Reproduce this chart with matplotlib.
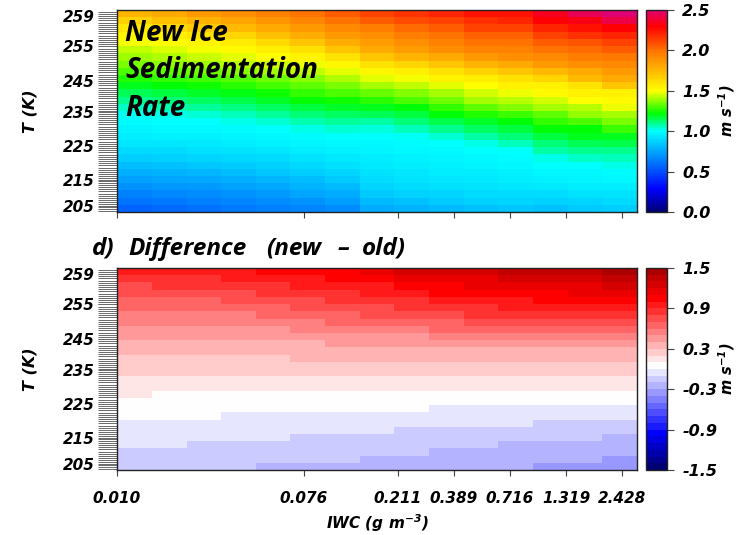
import matplotlib
matplotlib.use('Agg')
import matplotlib.pyplot as plt
import numpy as np
from matplotlib.cm import ScalarMappable
from matplotlib.colors import BoundaryNorm, LinearSegmentedColormap, ListedColormap, Normalize
from matplotlib.ticker import FixedLocator, NullLocator

plt.rcParams.update({
    'font.family': ['DejaVu Sans'],
    'font.weight': 'bold',
    'font.style': 'italic',
    'axes.labelweight': 'bold',
    'axes.unicode_minus': False,
    'mathtext.fontset': 'custom',
    'mathtext.it': 'DejaVu Sans:italic:bold',
    'mathtext.rm': 'DejaVu Sans:italic:bold',
    'mathtext.default': 'it',
})

# IWC bin edges (g m-3) and the labelled IWC values
iwc_edges = [0.0100, 0.0146, 0.0213, 0.0310, 0.0452, 0.0658, 0.0959, 0.1398,
             0.2038, 0.2971, 0.4331, 0.6313, 0.9203, 1.3415, 1.9555, 2.8505]
iwc_ticks = [0.010, 0.076, 0.211, 0.389, 0.716, 1.319, 2.428]
t_labels = [259, 255, 245, 235, 225, 215, 205]

# new ice sedimentation rate (m s-1), one list per IWC bin, warmest row first
vnew_cols = [
    [1.76, 1.66, 1.58, 1.53, 1.49, 1.43, 1.39, 1.35, 1.30, 1.25, 1.20, 1.15, 1.10, 1.05,
     1.01, 0.99, 0.97, 0.95, 0.93, 0.90, 0.86, 0.82, 0.78, 0.74, 0.70, 0.65, 0.61, 0.56],
    [1.80, 1.72, 1.63, 1.56, 1.51, 1.46, 1.41, 1.37, 1.32, 1.27, 1.22, 1.17, 1.12, 1.07,
     1.02, 1.00, 0.98, 0.96, 0.93, 0.90, 0.87, 0.83, 0.79, 0.75, 0.71, 0.67, 0.62, 0.58],
    [1.86, 1.77, 1.68, 1.60, 1.54, 1.49, 1.44, 1.39, 1.34, 1.29, 1.24, 1.19, 1.14, 1.09,
     1.04, 1.00, 0.98, 0.96, 0.94, 0.91, 0.88, 0.84, 0.80, 0.76, 0.72, 0.68, 0.64, 0.60],
    [1.90, 1.82, 1.74, 1.65, 1.57, 1.52, 1.47, 1.42, 1.37, 1.31, 1.26, 1.21, 1.16, 1.11,
     1.06, 1.02, 0.99, 0.97, 0.95, 0.92, 0.89, 0.85, 0.82, 0.78, 0.74, 0.70, 0.66, 0.62],
    [1.95, 1.87, 1.80, 1.72, 1.63, 1.56, 1.50, 1.45, 1.40, 1.34, 1.29, 1.24, 1.19, 1.14,
     1.09, 1.04, 1.00, 0.98, 0.96, 0.93, 0.90, 0.87, 0.84, 0.80, 0.76, 0.72, 0.68, 0.64],
    [2.00, 1.93, 1.86, 1.79, 1.70, 1.61, 1.54, 1.48, 1.43, 1.37, 1.32, 1.27, 1.22, 1.17,
     1.12, 1.07, 1.02, 0.99, 0.97, 0.95, 0.92, 0.89, 0.86, 0.82, 0.79, 0.75, 0.70, 0.66],
    [2.06, 2.00, 1.92, 1.86, 1.79, 1.70, 1.60, 1.53, 1.47, 1.41, 1.35, 1.30, 1.24, 1.19,
     1.14, 1.09, 1.04, 1.00, 0.98, 0.96, 0.94, 0.91, 0.88, 0.85, 0.81, 0.77, 0.73, 0.68],
    [2.12, 2.06, 1.96, 1.90, 1.85, 1.80, 1.70, 1.60, 1.53, 1.47, 1.40, 1.33, 1.26, 1.20,
     1.15, 1.08, 1.03, 1.00, 0.98, 0.97, 0.95, 0.94, 0.92, 0.90, 0.88, 0.85, 0.81, 0.77],
    [2.16, 2.10, 2.02, 1.96, 1.90, 1.85, 1.76, 1.65, 1.56, 1.49, 1.43, 1.36, 1.30, 1.22,
     1.17, 1.12, 1.06, 1.01, 0.99, 0.98, 0.96, 0.95, 0.93, 0.92, 0.90, 0.87, 0.83, 0.79],
    [2.20, 2.12, 2.06, 2.00, 1.95, 1.90, 1.80, 1.70, 1.60, 1.54, 1.47, 1.40, 1.34, 1.27,
     1.22, 1.16, 1.10, 1.04, 1.00, 0.98, 0.97, 0.96, 0.95, 0.93, 0.91, 0.88, 0.85, 0.81],
    [2.25, 2.17, 2.12, 2.05, 2.00, 1.94, 1.86, 1.76, 1.66, 1.56, 1.50, 1.45, 1.40, 1.32,
     1.25, 1.19, 1.14, 1.08, 1.02, 1.00, 0.98, 0.97, 0.95, 0.94, 0.92, 0.90, 0.87, 0.83],
    [2.25, 2.20, 2.12, 2.05, 2.00, 1.95, 1.90, 1.80, 1.70, 1.60, 1.55, 1.48, 1.42, 1.36,
     1.28, 1.22, 1.17, 1.12, 1.06, 1.00, 0.99, 0.98, 0.96, 0.95, 0.93, 0.90, 0.88, 0.84],
    [2.35, 2.30, 2.20, 2.12, 2.06, 2.00, 1.92, 1.86, 1.75, 1.65, 1.55, 1.52, 1.45, 1.40,
     1.32, 1.27, 1.22, 1.17, 1.12, 1.08, 1.02, 1.00, 0.98, 0.96, 0.94, 0.90, 0.87, 0.83],
    [2.45, 2.33, 2.25, 2.17, 2.08, 2.02, 1.96, 1.90, 1.80, 1.74, 1.60, 1.55, 1.50, 1.42,
     1.38, 1.30, 1.22, 1.20, 1.15, 1.10, 1.05, 1.00, 0.98, 0.97, 0.95, 0.92, 0.88, 0.85],
    [2.50, 2.42, 2.30, 2.20, 2.12, 2.06, 1.98, 1.92, 1.86, 1.80, 1.70, 1.55, 1.52, 1.48,
     1.40, 1.35, 1.28, 1.20, 1.16, 1.10, 1.06, 1.02, 0.99, 0.98, 0.95, 0.92, 0.90, 0.86],
]

# new - old (m s-1), same layout
diff_cols = [
    [0.93, 0.86, 0.78, 0.74, 0.67, 0.62, 0.57, 0.53, 0.46, 0.42, 0.36, 0.32, 0.27, 0.24,
     0.21, 0.17, 0.14, 0.11, 0.07, 0.04, 0.02, -0.02, -0.04, -0.06, -0.09, -0.12, -0.15, -0.18],
    [0.94, 0.88, 0.82, 0.76, 0.68, 0.63, 0.58, 0.53, 0.47, 0.43, 0.37, 0.33, 0.28, 0.25,
     0.22, 0.16, 0.12, 0.08, 0.06, 0.04, 0.02, -0.02, -0.05, -0.07, -0.09, -0.13, -0.16, -0.18],
    [0.95, 0.89, 0.83, 0.77, 0.69, 0.64, 0.58, 0.54, 0.48, 0.43, 0.37, 0.33, 0.28, 0.25,
     0.22, 0.16, 0.12, 0.08, 0.06, 0.04, 0.01, -0.03, -0.05, -0.08, -0.11, -0.14, -0.16, -0.19],
    [0.97, 0.91, 0.84, 0.78, 0.71, 0.65, 0.59, 0.54, 0.48, 0.44, 0.38, 0.34, 0.29, 0.25,
     0.22, 0.17, 0.13, 0.08, 0.05, 0.02, -0.01, -0.04, -0.06, -0.09, -0.11, -0.14, -0.17, -0.19],
    [1.02, 0.94, 0.87, 0.81, 0.73, 0.67, 0.61, 0.55, 0.49, 0.44, 0.38, 0.34, 0.29, 0.26,
     0.22, 0.17, 0.13, 0.09, 0.05, 0.02, -0.01, -0.04, -0.07, -0.09, -0.12, -0.15, -0.18, -0.21],
    [1.05, 0.97, 0.91, 0.84, 0.76, 0.71, 0.63, 0.57, 0.51, 0.45, 0.39, 0.35, 0.31, 0.27,
     0.23, 0.17, 0.13, 0.09, 0.05, 0.02, -0.02, -0.05, -0.08, -0.11, -0.13, -0.16, -0.18, -0.21],
    [1.08, 1.01, 0.94, 0.87, 0.81, 0.74, 0.66, 0.61, 0.53, 0.47, 0.41, 0.36, 0.31, 0.27,
     0.23, 0.18, 0.13, 0.09, 0.05, 0.02, -0.02, -0.05, -0.08, -0.11, -0.14, -0.16, -0.19, -0.22],
    [1.12, 1.04, 0.97, 0.91, 0.84, 0.77, 0.71, 0.64, 0.56, 0.48, 0.42, 0.37, 0.32, 0.28,
     0.23, 0.18, 0.13, 0.09, 0.05, 0.01, -0.02, -0.05, -0.08, -0.11, -0.14, -0.17, -0.21, -0.24],
    [1.23, 1.13, 1.04, 0.96, 0.88, 0.81, 0.74, 0.66, 0.58, 0.49, 0.43, 0.38, 0.32, 0.28,
     0.24, 0.18, 0.14, 0.09, 0.05, 0.01, -0.03, -0.07, -0.11, -0.13, -0.16, -0.19, -0.22, -0.25],
    [1.26, 1.16, 1.07, 1.01, 0.93, 0.84, 0.76, 0.68, 0.61, 0.52, 0.44, 0.38, 0.33, 0.28,
     0.24, 0.18, 0.14, 0.08, 0.03, -0.01, -0.04, -0.08, -0.12, -0.15, -0.18, -0.21, -0.24, -0.27],
    [1.28, 1.18, 1.11, 1.03, 0.95, 0.87, 0.81, 0.72, 0.63, 0.54, 0.45, 0.39, 0.33, 0.29,
     0.24, 0.18, 0.14, 0.08, 0.03, -0.01, -0.04, -0.08, -0.12, -0.15, -0.18, -0.21, -0.24, -0.28],
    [1.33, 1.23, 1.14, 1.06, 0.97, 0.91, 0.83, 0.74, 0.65, 0.56, 0.46, 0.39, 0.34, 0.29,
     0.25, 0.19, 0.14, 0.08, 0.03, -0.02, -0.05, -0.09, -0.13, -0.17, -0.21, -0.23, -0.26, -0.29],
    [1.36, 1.26, 1.16, 1.08, 1.01, 0.93, 0.85, 0.76, 0.67, 0.57, 0.47, 0.39, 0.34, 0.29,
     0.25, 0.19, 0.14, 0.08, 0.03, -0.02, -0.06, -0.11, -0.14, -0.18, -0.21, -0.24, -0.28, -0.31],
    [1.38, 1.28, 1.18, 1.11, 1.03, 0.95, 0.86, 0.77, 0.68, 0.58, 0.48, 0.39, 0.34, 0.29,
     0.25, 0.19, 0.14, 0.08, 0.03, -0.02, -0.06, -0.11, -0.15, -0.18, -0.22, -0.25, -0.28, -0.32],
    [1.44, 1.34, 1.25, 1.15, 1.06, 0.96, 0.86, 0.77, 0.67, 0.57, 0.47, 0.39, 0.34, 0.29,
     0.25, 0.19, 0.14, 0.08, 0.03, -0.02, -0.06, -0.11, -0.16, -0.21, -0.24, -0.27, -0.31, -0.35],
]

vnew = np.array(vnew_cols).T[::-1]   # rows bottom (205 K) -> top (259 K)
diff = np.array(diff_cols).T[::-1]
n_rows = vnew.shape[0]
row_edges = np.arange(n_rows + 1)
# where the temperature labels sit along the row axis
t_label_rows = [27.17, 23.03, 18.2, 13.8, 9.1, 4.4, 0.8]

# rainbow table for the sedimentation rate
rate_cmap = LinearSegmentedColormap.from_list('rate', [
    (0.0 / 2.5, (0.0, 0.0, 0.45)),
    (0.28 / 2.5, (0.0, 0.0, 1.0)),
    (1.0 / 2.5, (0.0, 1.0, 1.0)),
    (1.22 / 2.5, (0.0, 1.0, 0.0)),
    (1.5 / 2.5, (1.0, 1.0, 0.0)),
    (2.0 / 2.5, (1.0, 0.45, 0.0)),
    (2.3 / 2.5, (1.0, 0.0, 0.0)),
    (1.0, (0.88, 0.0, 0.45)),
])
rate_norm = Normalize(0.0, 2.5)

# blue-white-red bands for the difference, 0.1 m s-1 wide
diff_levels = np.round(np.linspace(-1.5, 1.5, 31), 2)
_bwr = LinearSegmentedColormap.from_list('bwr_dark', [
    (0.0, (0.0, 0.0, 0.45)),
    (0.5 / 3, (0.0, 0.0, 1.0)),
    (0.5, (1.0, 1.0, 1.0)),
    (2.5 / 3, (1.0, 0.0, 0.0)),
    (1.0, (0.6, 0.0, 0.0)),
])
diff_cmap = ListedColormap([_bwr((lo + 1.5) / 3.0) for lo in diff_levels[:-1]])
diff_norm = BoundaryNorm(diff_levels, diff_cmap.N)

W, H = 750, 535
fig = plt.figure(figsize=(W / 100, H / 100), dpi=100)


def frame(px_left, px_top, px_w, px_h):
    return [px_left / W, 1 - (px_top + px_h) / H, px_w / W, px_h / H]


ax1 = fig.add_axes(frame(117, 10, 520, 202))
cax1 = fig.add_axes(frame(646, 10, 21, 202))
ax2 = fig.add_axes(frame(117, 268, 520, 202))
cax2 = fig.add_axes(frame(646, 268, 21, 202))

ax1.pcolormesh(iwc_edges, row_edges, vnew, cmap=rate_cmap, norm=rate_norm, shading='flat')
ax2.pcolormesh(iwc_edges, row_edges, diff, cmap=diff_cmap, norm=diff_norm, shading='flat')

for ax in (ax1, ax2):
    ax.set_xscale('log')
    ax.set_xlim(iwc_edges[0], iwc_edges[-1])
    ax.set_ylim(0, n_rows)
    ax.xaxis.set_major_locator(FixedLocator(iwc_ticks))
    ax.xaxis.set_minor_locator(NullLocator())
    ax.yaxis.set_major_locator(FixedLocator(t_label_rows))
    ax.yaxis.set_minor_locator(FixedLocator(np.arange(0.15, n_rows, 0.3)))
    ax.set_yticklabels([str(t) for t in t_labels])
    ax.tick_params(axis='x', direction='out', length=4, width=0.8, color='#444444',
                   labelsize=11, pad=11)
    ax.tick_params(axis='y', which='both', direction='out', length=14, width=0.7,
                   color='#6a6a6a', labelsize=11, pad=2)
    for sp in ax.spines.values():
        sp.set_color('#222222')
        sp.set_linewidth(1.0)
    ax.set_ylabel('T (K)', fontsize=11.5)
    ax.yaxis.set_label_coords(-0.152, 0.5)

ax1.set_xticklabels([])
ax2.set_xticklabels(['%.3f' % v for v in iwc_ticks])
ax2.set_xlabel('IWC (g m$^{-3}$)', fontsize=11, va='center')
ax2.xaxis.set_label_coords(0.5, -0.262)

cb1 = fig.colorbar(ScalarMappable(norm=rate_norm, cmap=rate_cmap), cax=cax1)
cb1.set_ticks([0.0, 0.5, 1.0, 1.5, 2.0, 2.5])
cb1.set_ticklabels(['0.0', '0.5', '1.0', '1.5', '2.0', '2.5'])

cb2 = fig.colorbar(ScalarMappable(norm=diff_norm, cmap=diff_cmap), cax=cax2,
                   boundaries=diff_levels, spacing='proportional')
cb2.set_ticks([-1.5, -0.9, -0.3, 0.3, 0.9, 1.5])
cb2.set_ticklabels(['-1.5', '-0.9', '-0.3', '0.3', '0.9', '1.5'])

for cb, cy in ((cb1, 111), (cb2, 369)):
    cb.outline.set_edgecolor('#222222')
    cb.outline.set_linewidth(1.0)
    cb.ax.tick_params(direction='out', length=5, width=0.8, color='#444444',
                      labelsize=11.5, pad=6)
    cb.ax.yaxis.set_minor_locator(NullLocator())
    fig.text(727 / W, 1 - cy / H, 'm s$^{-1}$)', rotation=90, ha='center', va='center',
             fontsize=10.5)

label_font = dict(family=['Open Sans', 'DejaVu Sans'], weight='bold', style='italic')
for line, base in (('New Ice', 41), ('Sedimentation', 78), ('Rate', 116)):
    fig.text(125 / W, 1 - base / H, line, ha='left', va='baseline', fontsize=20,
             color='black', **label_font)

# panel title, laid out word by word
for word, px in (('d)', 92), ('Difference', 128), ('(new', 266), ('\u2013', 338), ('old)', 362)):
    fig.text(px / W, 1 - 255 / H, word, ha='left', va='baseline', fontsize=17.5,
             color='black', **label_font)

fig.savefig('out.png', dpi=100)
